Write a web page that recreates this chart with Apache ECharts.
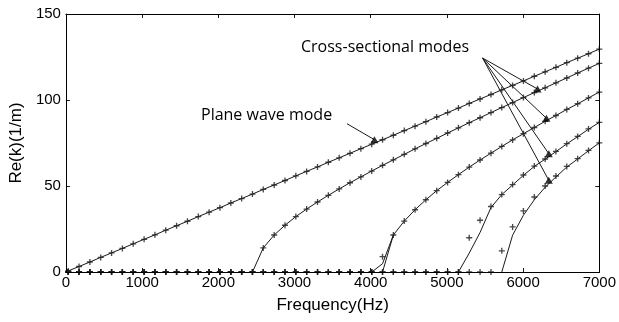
<!DOCTYPE html>
<html>
<head>
<meta charset="utf-8">
<script src="https://cdn.jsdelivr.net/npm/echarts@6/dist/echarts.min.js"></script>
<style>
  html, body { margin: 0; padding: 0; background: #fff; }
  #chart { width: 619px; height: 322px; }
</style>
</head>
<body>
<div id="chart"></div>
<script>
// frequency grid (Hz)
const freq = [30,172,314,457,599,741,883,1026,1168,1310,1452,1595,1737,1879,2021,2164,2306,2448,2590,2733,
  2875,3017,3159,3302,3444,3586,3728,3871,4013,4155,4297,4440,4582,4724,4866,5009,5151,5293,5435,5578,
  5720,5862,6004,6147,6289,6431,6573,6716,6858,7000];

// Re(k) of plane wave mode
const planeRe = [0.6,3.2,5.8,8.5,11.1,13.7,16.4,19.0,21.6,24.3,26.9,29.5,32.2,34.8,37.4,40.1,42.7,45.3,48.0,50.6,
  53.2,55.9,58.5,61.1,63.8,66.4,69.0,71.7,74.3,76.9,79.5,82.2,84.8,87.4,90.1,92.7,95.3,98.0,100.6,103.2,
  105.9,108.5,111.1,113.8,116.4,119.0,121.7,124.3,126.9,129.6];

// cross-sectional modes, markers (0 below cut-on)
const mode1Pts = [0,0,0,0,0,0,0,0,0,0,0,0,0,0,0,0,0,0,14.0,21.5,
  27.2,32.2,36.6,40.7,44.6,48.3,51.9,55.3,58.7,62.0,65.2,68.4,71.6,74.7,77.7,80.8,83.8,86.8,89.7,92.7,
  95.6,98.5,101.4,104.3,107.1,110.0,112.8,115.7,118.5,121.3];
const mode2Pts = [0,0,0,0,0,0,0,0,0,0,0,0,0,0,0,0,0,0,0,0,
  0,0,0,0,0,0,0,0,0,8.9,21.5,29.6,36.2,42.0,47.3,52.1,56.6,61.0,65.1,69.1,
  73.0,76.8,80.4,84.0,87.6,91.0,94.5,97.8,101.2,104.6];
const mode3Pts = [0,0,0,0,0,0,0,0,0,0,0,0,0,0,0,0,0,0,0,0,
  0,0,0,0,0,0,0,0,0,0,0,0,0,0,0,0,0,19.9,30.1,38.1,
  45.0,50.8,56.4,61.6,65.7,70.1,74.6,78.8,83.2,87.0];
const mode4Pts = [0,0,0,0,0,0,0,0,0,0,0,0,0,0,0,0,0,0,0,0,
  0,0,0,0,0,0,0,0,0,0,0,0,0,0,0,0,0,0,0,0,
  12.3,26.2,35.5,43.6,50.0,55.8,61.4,65.9,70.7,75.1];

// cross-sectional modes, solid curves (null = not drawn)
const mode1Line = [null,null,null,null,null,null,null,null,null,null,null,null,null,null,null,null,null,0,14.0,21.5,
  27.2,32.2,36.6,40.7,44.6,48.3,51.9,55.3,58.7,62.0,65.2,68.4,71.6,74.7,77.7,80.8,83.8,86.8,89.7,92.7,
  95.6,98.5,101.4,104.3,107.1,110.0,112.8,115.7,118.5,121.3];
const mode2LineA = [null,null,null,null,null,null,null,null,null,null,null,null,null,null,null,null,null,null,null,null,
  null,null,null,null,null,null,null,null,0,4.8,21.5,29.6,36.2,42.0,47.3,52.1,56.6,61.0,65.1,69.1,
  73.0,76.8,80.4,84.0,87.6,91.0,94.5,97.8,101.2,104.6];
const mode2LineB = [null,null,null,null,null,null,null,null,null,null,null,null,null,null,null,null,null,null,null,null,
  null,null,null,null,null,null,null,null,null,0,21.5,null,null,null,null,null,null,null,null,null,
  null,null,null,null,null,null,null,null,null,null];
const mode3Line = [null,null,null,null,null,null,null,null,null,null,null,null,null,null,null,null,null,null,null,null,
  null,null,null,null,null,null,null,null,null,null,null,null,null,null,null,null,0,11.0,23.0,37.5,
  45.0,50.6,56.2,61.4,65.6,70.0,74.5,78.7,83.0,87.0];
const mode4Line = [null,null,null,null,null,null,null,null,null,null,null,null,null,null,null,null,null,null,null,null,
  null,null,null,null,null,null,null,null,null,null,null,null,null,null,null,null,null,null,null,null,
  0,21.4,33.0,42.0,49.3,55.3,61.0,65.7,70.5,75.1];

// annotation arrows: [from, to] in data units
const planeArrow = [[3689, 86.2], [4049, 76.9]];
const crossFrom = [5468, 124.4];
const crossTips = [[6189, 106.4], [6306, 89.4], [6337, 68.8], [6337, 53.3]];

const pair = (ys) => freq.map((f, i) => [f, ys[i]]);
const ink = '#1a1a1a';
const star = 'path://M3.9,0h2.2v3.9h3.9v2.2h-3.9v3.9h-2.2v-3.9h-3.9v-2.2h3.9z';

const lineSeries = (ys) => ({
  type: 'line', data: pair(ys), showSymbol: false, connectNulls: false, silent: true,
  lineStyle: { color: ink, width: 1 }, z: 2
});
const markSeries = (ys) => ({
  type: 'scatter', data: pair(ys), symbol: star, symbolSize: 6, silent: true,
  itemStyle: { color: ink }, z: 3
});

const arrowLines = [[{ coord: planeArrow[0] }, { coord: planeArrow[1] }]];
crossTips.forEach(t => arrowLines.push([{ coord: crossFrom }, { coord: t }]));

const frame = { show: true, onZero: false, lineStyle: { color: ink, width: 1 } };
const ticks = { show: true, inside: true, length: 4, lineStyle: { color: ink } };

let chart = echarts.init(document.getElementById('chart'));
let option = {
  animation: false,
  backgroundColor: '#fff',
  grid: { left: 64, right: 17, top: 14, bottom: 50 },
  xAxis: [{
    type: 'value', min: 0, max: 7000, interval: 1000,
    name: 'Frequency(Hz)', nameLocation: 'middle', nameGap: 25,
    nameTextStyle: { fontFamily: 'Liberation Sans', fontSize: 17, color: '#000' },
    axisLine: frame, axisTick: ticks,
    axisLabel: { fontFamily: 'Liberation Sans', fontSize: 15, color: '#000', margin: 3,
      formatter: (v) => String(v) },
    splitLine: { show: false }
  }, {
    type: 'value', position: 'top', min: 0, max: 7000, interval: 1000,
    axisLine: frame, axisTick: ticks,
    axisLabel: { show: false }, splitLine: { show: false }
  }],
  yAxis: [{
    type: 'value', min: 0, max: 150, interval: 50,
    name: 'Re(k)(1/m)', nameLocation: 'middle', nameGap: 38,
    nameTextStyle: { fontFamily: 'Liberation Sans', fontSize: 17, color: '#000' },
    axisLine: frame, axisTick: ticks,
    axisLabel: { fontFamily: 'Liberation Sans', fontSize: 15, color: '#000', margin: 5 },
    splitLine: { show: false }
  }, {
    type: 'value', position: 'right', min: 0, max: 150, interval: 50,
    axisLine: frame, axisTick: ticks,
    axisLabel: { show: false }, splitLine: { show: false }
  }],
  series: [
    lineSeries(planeRe),
    lineSeries(mode1Line),
    lineSeries(mode2LineA),
    lineSeries(mode2LineB),
    lineSeries(mode3Line),
    lineSeries(mode4Line),
    markSeries(planeRe),
    markSeries(mode1Pts),
    markSeries(mode2Pts),
    markSeries(mode3Pts),
    markSeries(mode4Pts),
    {
      type: 'scatter', symbol: 'triangle', symbolSize: [8, 7], silent: true,
      data: [planeArrow[1]].concat(crossTips),
      itemStyle: { color: '#000' }, z: 5,
      markLine: {
        silent: true, symbol: 'none', animation: false,
        label: { show: false },
        lineStyle: { color: ink, width: 1, type: 'solid' },
        data: arrowLines
      }
    }
  ],
  graphic: [
    { type: 'text', left: 201, top: 107, style: { text: 'Plane wave mode', font: '16px "Open Sans"', fill: '#000' } },
    { type: 'text', left: 301, top: 39, style: { text: 'Cross-sectional modes', font: '16px "Open Sans"', fill: '#000' } }
  ]
};
chart.setOption(option);

// box around the plot area
let p0 = chart.convertToPixel({ gridIndex: 0 }, [0, 150]);
let p1 = chart.convertToPixel({ gridIndex: 0 }, [7000, 0]);
chart.setOption({
  graphic: option.graphic.concat([{
    type: 'rect', z: 10, silent: true,
    shape: { x: Math.round(p0[0]) + 0.5, y: Math.round(p0[1]) + 0.5,
      width: Math.round(p1[0] - p0[0]), height: Math.round(p1[1] - p0[1]) },
    style: { fill: 'none', stroke: '#000', lineWidth: 1 }
  }])
});
</script>
</body>
</html>
